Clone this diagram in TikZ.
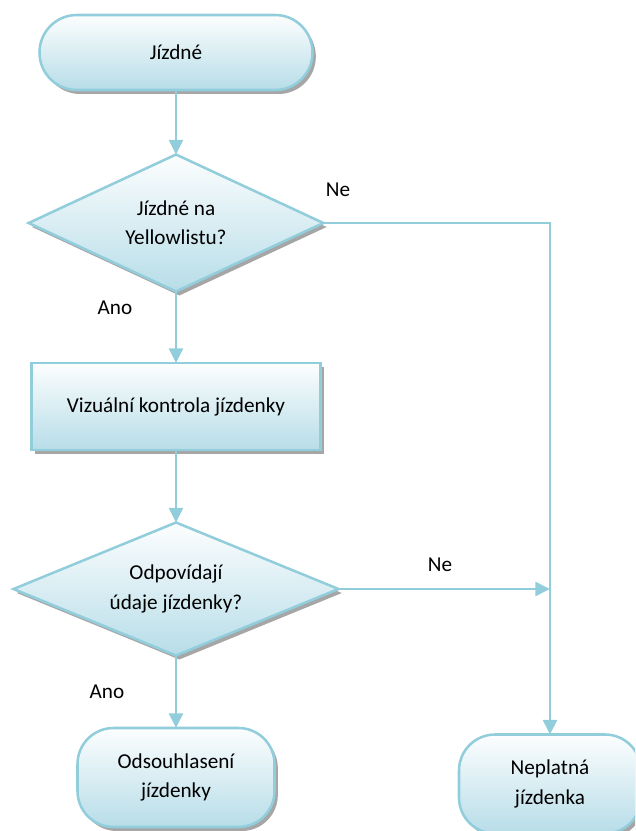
\documentclass[tikz,border=0pt]{standalone}
\usepackage{fontspec}
\setmainfont{Carlito}
\usetikzlibrary{shapes.geometric,arrows.meta,shadows}

\definecolor{lineblue}{RGB}{146,205,220}
\definecolor{fillblue}{RGB}{183,221,232}

\begin{document}
\begin{tikzpicture}[x=0.75pt, y=-0.75pt,
    >={Triangle[length=11pt,width=10.5pt]},
    line width=1.9pt, lineblue,
    box/.style={draw=lineblue, top color=white!96!fillblue, bottom color=fillblue,
        text=black, align=center, outer sep=0pt, inner sep=2pt,
        font=\fontsize{15.9}{22}\selectfont,
        drop shadow={shadow xshift=2.5pt, shadow yshift=-3pt, fill=black!50, opacity=.7}},
    terminal/.style={box, rectangle, rounded corners=#1},
    decision/.style={box, diamond, shape aspect=#1},
    label/.style={text=black, font=\fontsize{15.9}{22}\selectfont}]
    \clip (0, 0) rectangle (635, 831);

    % Start
    \node[terminal=28pt, minimum width=204.75pt, minimum height=56.25pt] (start) at (176, 52.5) {Jízdné};

    % Yellowlist question
    \node[decision=2.15, minimum width=221pt, minimum height=102.75pt] (yellow) at (176, 223) {Jízdné na\\Yellowlistu?};

    % Visual check
    \node[box, rectangle, minimum width=216.75pt, minimum height=65.25pt] (check) at (176, 406.5) {Vizuální kontrola jízdenky};

    % Ticket data question
    \node[decision=2.4, minimum width=243.75pt, minimum height=99.75pt] (data) at (176, 589) {Odpovídají\\údaje jízdenky?};

    % End states
    \node[terminal=27pt, minimum width=147.75pt, minimum height=74.25pt] (valid) at (176, 777.5) {Odsouhlasení\\jízdenky};
    \node[terminal=27pt, minimum width=136.5pt, minimum height=74.25pt] (invalid) at (550, 784) {Neplatná\\jízdenka};

    % Connectors
    \draw[->] (start) -- (yellow);
    \draw[->] (yellow) -- (check);
    \draw[->] (yellow.east) -| (invalid.north);
    \draw[->] (check) -- (data);
    \draw[->] (data.east) -- (data.east -| invalid.north);
    \draw[->] (data) -- (valid);

    % Answers
    \node[label] (yesA) at (115, 308) {Ano};
    \node[label] (noA) at (338, 190) {Ne};
    \node[label] (yesB) at (107, 692) {Ano};
    \node[label] (noB) at (440, 565) {Ne};
\end{tikzpicture}
\end{document}
